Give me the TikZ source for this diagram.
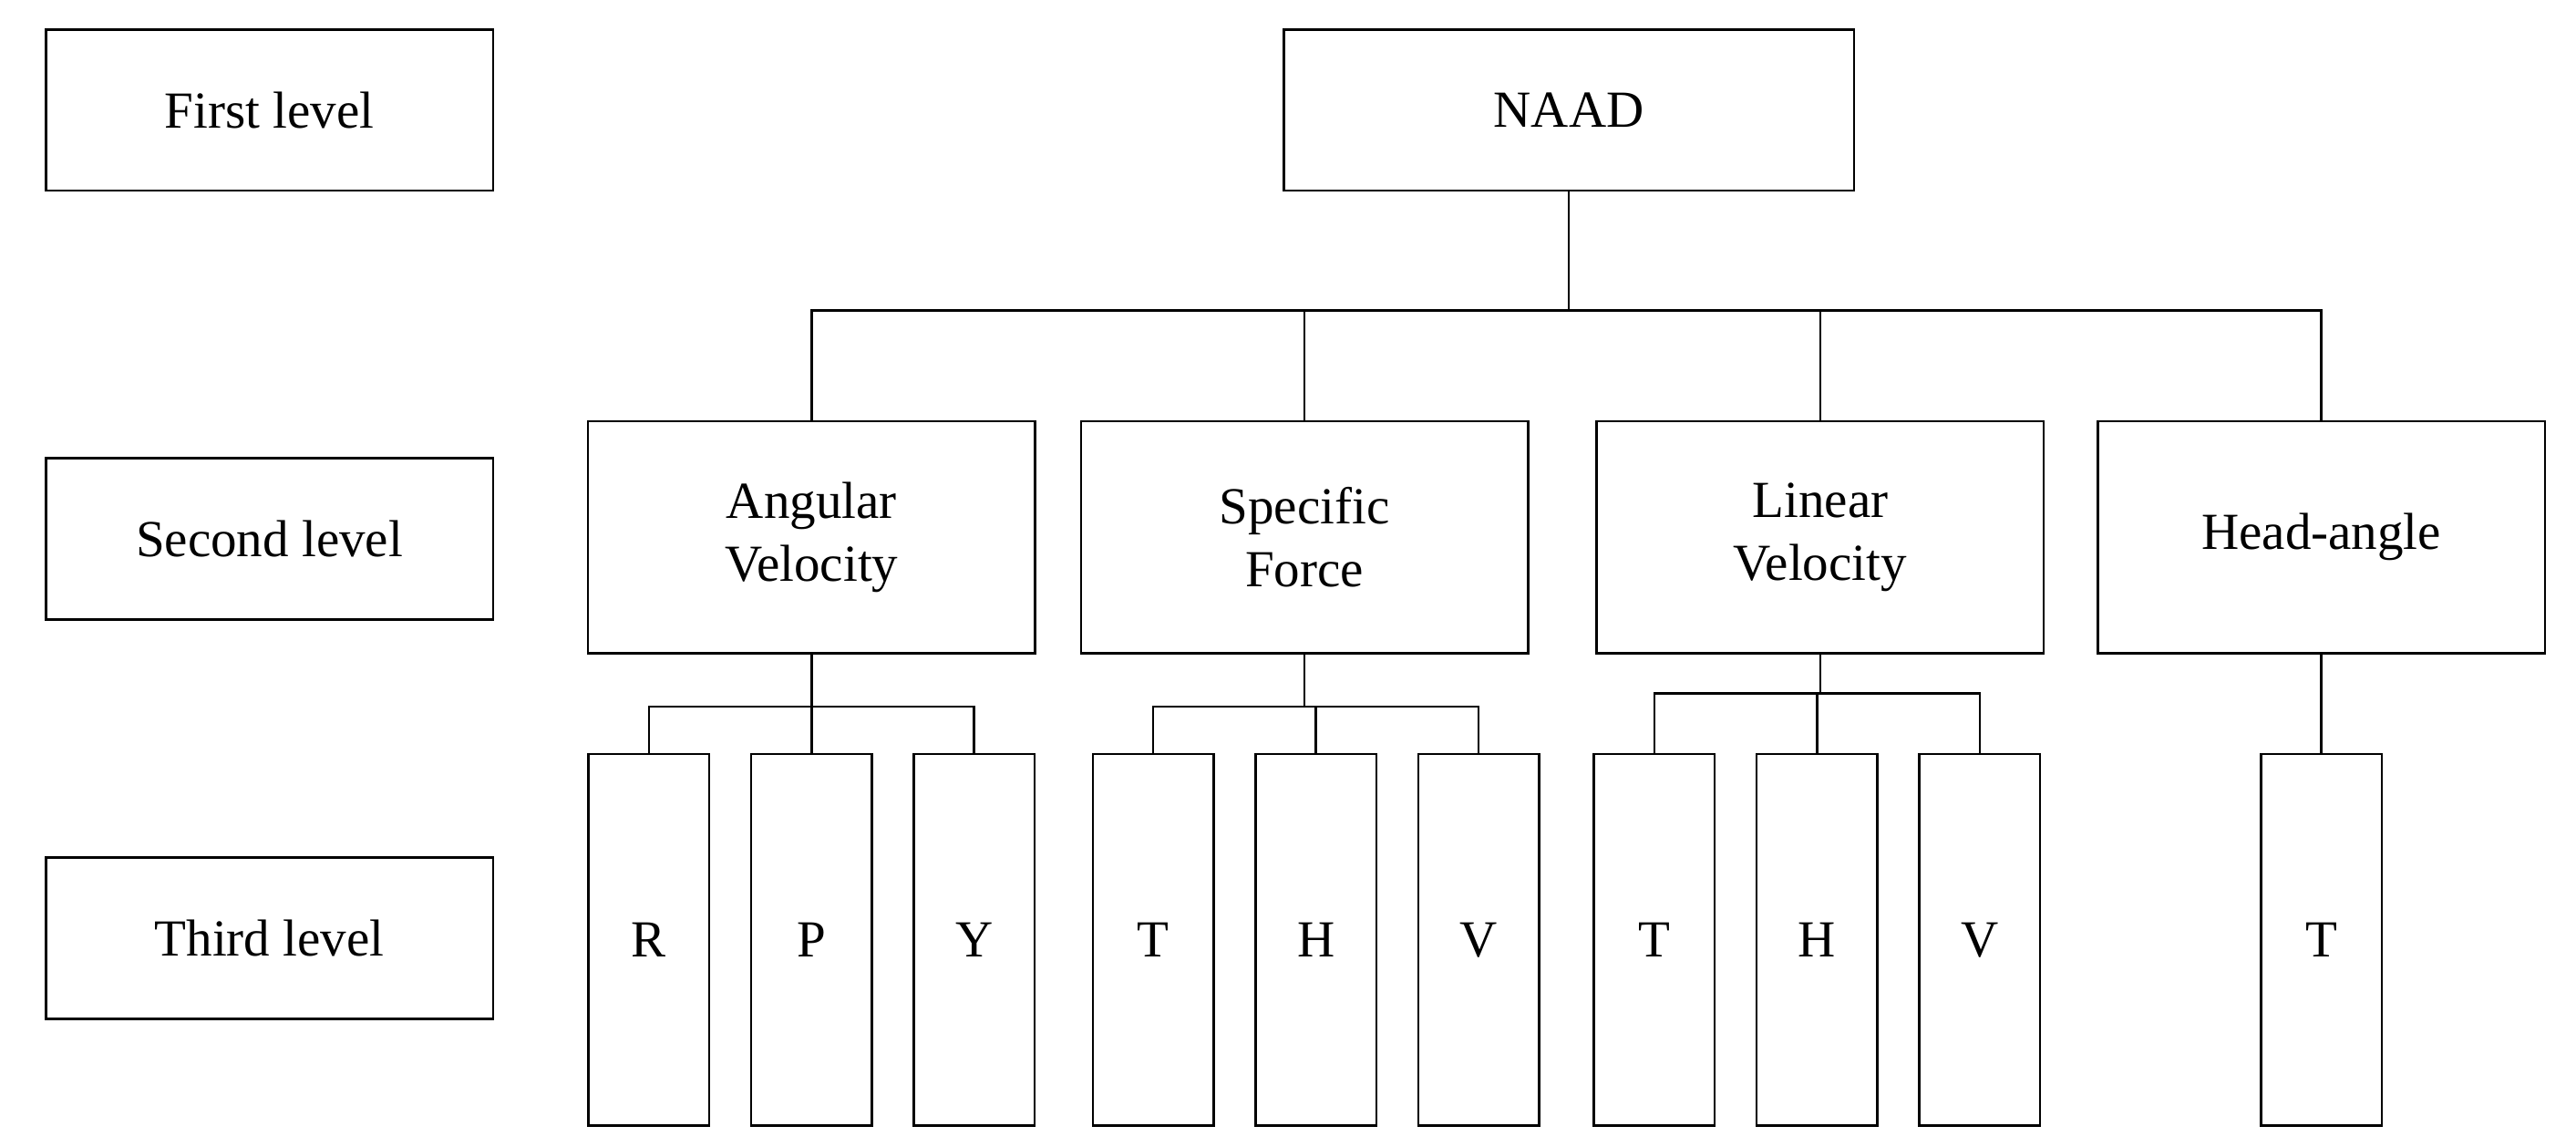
\documentclass[tikz,border=0pt]{standalone}
\usepackage{fontspec}
\setmainfont{Liberation Serif}
\begin{document}
\begin{tikzpicture}[x=0.01cm,y=-0.01cm,
  lvl/.style={draw,minimum width=2.72cm,minimum height=0.98cm,inner sep=0pt},
  mid/.style={draw,minimum width=2.72cm,minimum height=1.41cm,inner sep=0pt,align=center},
  leaf/.style={draw,minimum width=0.735cm,minimum height=2.26cm,inner sep=0pt},
  font=\fontsize{9}{11}\selectfont]
\useasboundingbox (0,0) rectangle (1568,698);

% Level labels
\node[lvl] (first) at (164,67) {First level};
\node[lvl] (second) at (164,328) {Second level};
\node[lvl] (third) at (164,571) {Third level};

% First level
\node[lvl,minimum width=3.47cm] (naad) at (955,67) {NAAD};

% Second level
\node[mid] (ang) at (494,327) {Angular\\Velocity};
\node[mid] (spf) at (794,327) {Specific\\Force};
\node[mid] (lin) at (1108,327) {Linear\\Velocity};
\node[mid] (head) at (1413,327) {Head-angle};

% Third level
\node[leaf] (angR) at (395,572) {R};
\node[leaf] (angP) at (494,572) {P};
\node[leaf] (angY) at (593,572) {Y};
\node[leaf] (spfT) at (702,572) {T};
\node[leaf] (spfH) at (801,572) {H};
\node[leaf] (spfV) at (900,572) {V};
\node[leaf] (linT) at (1007,572) {T};
\node[leaf] (linH) at (1106,572) {H};
\node[leaf] (linV) at (1205,572) {V};
\node[leaf] (headT) at (1413,572) {T};

% Tree lines
\coordinate (bus) at (955,189);
\draw (naad.south) -- (bus);
\foreach \n in {ang,spf,lin,head}
  \draw (\n.north) |- (bus);

\coordinate (angbus) at (494,430);
\coordinate (spfbus) at (794,430);
\coordinate (linbus) at (1108,422);
\draw (ang.south) -- (angbus);
\draw (spf.south) -- (spfbus);
\draw (lin.south) -- (linbus);
\foreach \l in {R,P,Y}
  \draw (ang\l.north) |- (angbus);
\foreach \l in {T,H,V}
  \draw (spf\l.north) |- (spfbus);
\foreach \l in {T,H,V}
  \draw (lin\l.north) |- (linbus);
\draw (head.south) -- (headT.north);

\end{tikzpicture}
\end{document}
